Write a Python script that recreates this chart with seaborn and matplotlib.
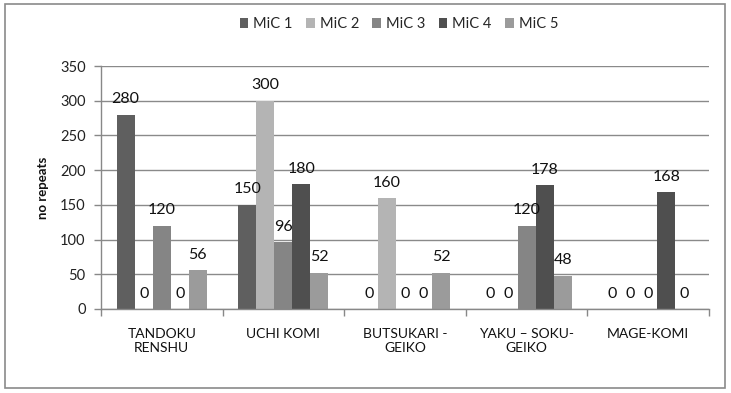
import matplotlib
matplotlib.use("Agg")
import matplotlib.pyplot as plt
import seaborn as sns
import pandas as pd
from matplotlib.patches import Rectangle

categories = ["TANDOKU\nRENSHU", "UCHI KOMI", "BUTSUKARI -\nGEIKO", "YAKU – SOKU-\nGEIKO", "MAGE-KOMI"]
series = ["MiC 1", "MiC 2", "MiC 3", "MiC 4", "MiC 5"]
mic1 = [280, 150, 0, 0, 0]
mic2 = [0, 300, 160, 0, 0]
mic3 = [120, 96, 0, 120, 0]
mic4 = [0, 180, 0, 178, 168]
mic5 = [56, 52, 52, 48, 0]
colors = ["#5f5f5f", "#b4b4b4", "#858585", "#4f4f4f", "#9b9b9b"]
yticks = [0, 50, 100, 150, 200, 250, 300, 350]

rows = []
for s, vals in zip(series, [mic1, mic2, mic3, mic4, mic5]):
    for c, v in zip(categories, vals):
        rows.append({"cat": c, "series": s, "val": v})
df = pd.DataFrame(rows)

sns.set_theme(style="white")
plt.rcParams["font.family"] = ["Lato", "DejaVu Sans"]

fig = plt.figure(figsize=(7.31, 3.93), dpi=100)
ax = fig.add_axes([0.138, 0.214, 0.832, 0.618])

sns.barplot(data=df, x="cat", y="val", hue="series", palette=colors,
            width=0.74, saturation=1, ax=ax, edgecolor="none", legend=True)

for cont in ax.containers:
    ax.bar_label(cont, fmt="%d", padding=6, fontsize=11.5, color="#111111")

ax.set_ylim(0, 350)
ax.set_yticks(yticks)
ax.set_xlim(-0.5, 4.5)
ax.yaxis.grid(True, color="#8a8a8a", linewidth=1)
ax.set_axisbelow(True)
ax.set_xlabel("")
ax.set_ylabel("no repeats", fontsize=9.5, fontweight="bold", color="#111111", labelpad=8)
ax.tick_params(axis="y", labelsize=10.5, colors="#222222", length=5, width=1, color="#888888", pad=6, left=True)
ax.tick_params(axis="x", labelsize=10, colors="#111111", length=0, pad=14)
for sp in ["top", "right"]:
    ax.spines[sp].set_visible(False)
for sp in ["left", "bottom"]:
    ax.spines[sp].set_color("#888888")
    ax.spines[sp].set_linewidth(1)
# category boundary ticks
ax.set_xticks([i - 0.5 for i in range(6)], minor=True)
ax.tick_params(axis="x", which="minor", length=5, color="#888888", width=1, bottom=True)

handles, labels = ax.get_legend_handles_labels()
ax.legend(handles, labels, loc="lower center", bbox_to_anchor=(0.49, 1.09), ncol=5,
          frameon=False, fontsize=10.5, handlelength=0.6, handleheight=0.6,
          columnspacing=0.9, handletextpad=0.35)

fig.patches.append(Rectangle((0.007, 0.012), 0.985, 0.978, transform=fig.transFigure,
                             fill=False, edgecolor="#8a8a8a", linewidth=1.2))
fig.savefig("out.png", dpi=100)
